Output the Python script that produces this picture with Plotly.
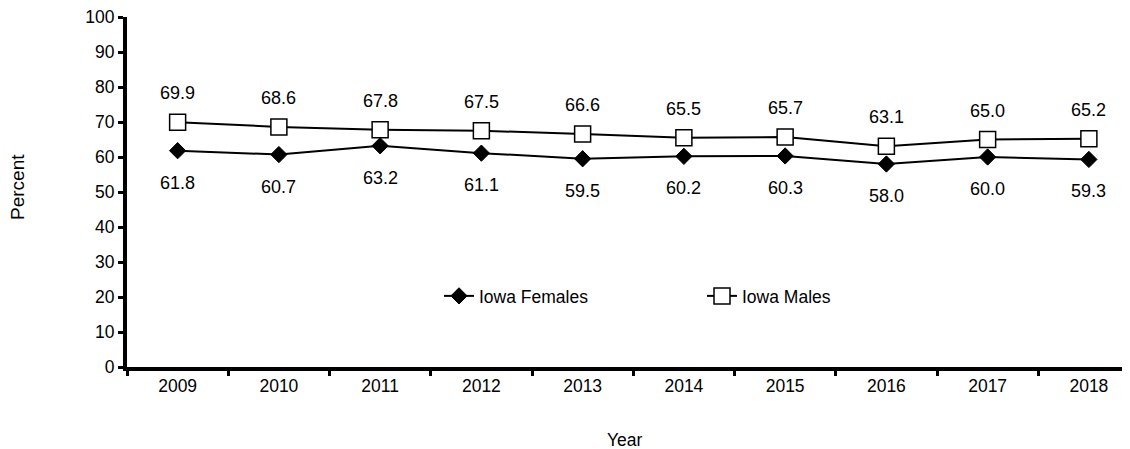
import plotly.graph_objects as go

years = ["2009", "2010", "2011", "2012", "2013", "2014", "2015", "2016", "2017", "2018"]
females = [61.8, 60.7, 63.2, 61.1, 59.5, 60.2, 60.3, 58.0, 60.0, 59.3]
males = [69.9, 68.6, 67.8, 67.5, 66.6, 65.5, 65.7, 63.1, 65.0, 65.2]
y_ticks = [0, 10, 20, 30, 40, 50, 60, 70, 80, 90, 100]

FONT = "Liberation Sans, Arial, sans-serif"
OFF = 8  # page body margin
W, H = 1130 - OFF, 449 - OFF
L, T = 127 - OFF, 17 - OFF
B = H - (367 - OFF)
PW = W - L  # plot width in px

fig = go.Figure()
fig.add_trace(go.Scatter(
    x=years, y=females, name="Iowa Females", mode="lines+markers",
    line=dict(color="black", width=2),
    marker=dict(symbol="diamond", size=12.5, color="black", line=dict(color="black", width=1)),
))
fig.add_trace(go.Scatter(
    x=years, y=males, name="Iowa Males", mode="lines+markers",
    line=dict(color="black", width=2),
    marker=dict(symbol="square", size=16, color="white", line=dict(color="black", width=1.5)),
))

for i, v in enumerate(males):
    fig.add_annotation(x=i, y=v, text=f"{v:.1f}", showarrow=False, yshift=29,
                       font=dict(family=FONT, size=18, color="black"))
for i, v in enumerate(females):
    fig.add_annotation(x=i, y=v, text=f"{v:.1f}", showarrow=False, yshift=-32,
                       font=dict(family=FONT, size=18, color="black"))

fig.add_annotation(text="Year", xref="paper", yref="paper", x=(625 - 127) / PW, y=-(440 - 367) / 350,
                   xanchor="center", yanchor="middle",
                   showarrow=False, font=dict(family=FONT, size=17.5, color="black"))
fig.add_annotation(text="Percent", xref="paper", yref="paper", x=-(127 - 17) / PW, y=(367 - 187) / 350,
                   xanchor="center", yanchor="middle",
                   textangle=-90, showarrow=False, font=dict(family=FONT, size=19, color="black"))

fig.update_layout(
    width=W, height=H,
    margin=dict(l=L, r=0, t=T, b=B, autoexpand=False),
    plot_bgcolor="white", paper_bgcolor="white",
    font=dict(family=FONT, size=17.5, color="black"),
    showlegend=True,
    legend=dict(orientation="h", x=(439 - 127) / PW, y=(367 - 296) / 350, xanchor="left", yanchor="middle",
                bgcolor="rgba(0,0,0,0)", font=dict(family=FONT, size=17.5, color="black"),
                entrywidth=218, entrywidthmode="pixels", itemwidth=30),
    xaxis=dict(type="category", range=[-0.5, 9.5 - (1139.5 - 1130) / 101.25],
               showline=True, linecolor="black", linewidth=4,
               ticks="outside", tickson="boundaries", ticklen=5, tickwidth=3, tickcolor="black",
               showgrid=False, zeroline=False, tickfont=dict(size=17.5), ticklabeloverflow="allow"),
    yaxis=dict(range=[0, 100], tickvals=y_ticks, showline=True, linecolor="black", linewidth=4,
               ticks="outside", ticklen=5, tickwidth=3, tickcolor="black",
               showgrid=False, zeroline=False, tickfont=dict(size=17.5), ticklabeloverflow="allow"),
)

fig.write_html("out.html")
